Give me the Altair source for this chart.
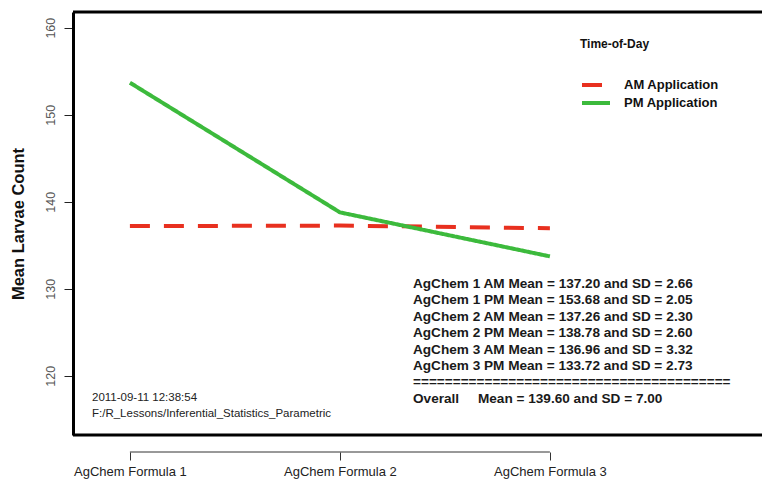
import altair as alt
import pandas as pd

# ---------------- data ----------------
formulas = ["AgChem Formula 1", "AgChem Formula 2", "AgChem Formula 3"]
positions = [1, 2, 3]
series_names = ["AM Application", "PM Application"]
am_means = [137.20, 137.26, 136.96]
pm_means = [153.68, 138.78, 133.72]
am_sds = [2.66, 2.30, 3.32]
pm_sds = [2.05, 2.60, 2.73]
overall_mean = 139.60
overall_sd = 7.00
y_ticks = [120, 130, 140, 150, 160]
stamp_lines = ["2011-09-11 12:38:54", "F:/R_Lessons/Inferential_Statistics_Parametric"]
line_colors = ["#e8301f", "#3cba3c"]

FONT = "Liberation Sans"
W, H = 689, 423

rows = []
for p, f, a, b in zip(positions, formulas, am_means, pm_means):
    rows.append({"pos": p, "formula": f, "series": series_names[0], "mean": a})
    rows.append({"pos": p, "formula": f, "series": series_names[1], "mean": b})
df = pd.DataFrame(rows)

stat_lines = []
for i in range(3):
    stat_lines.append(f"AgChem {i+1} AM Mean = {am_means[i]:.2f} and SD = {am_sds[i]:.2f}")
    stat_lines.append(f"AgChem {i+1} PM Mean = {pm_means[i]:.2f} and SD = {pm_sds[i]:.2f}")
stat_lines.append("=" * 40)
stat_lines.append("Overall" + "\u00a0" * 5 + f"Mean = {overall_mean:.2f} and SD = {overall_sd:.2f}")
stats_df = pd.DataFrame({"label": ["\n".join(stat_lines)]})
stamp_df = pd.DataFrame({"label": ["\n".join(stamp_lines)]})
one = pd.DataFrame({"a": [0]})

label_expr = "[" + ",".join(f"'{f}'" for f in formulas) + "][datum.value - 1]"

x_scale = alt.Scale(domain=[0.729, 4.01], nice=False, zero=False)
y_scale = alt.Scale(domain=[113.2, 161.8], nice=False, zero=False)

lines = alt.Chart(df).mark_line(strokeWidth=4, clip=True).encode(
    x=alt.X("pos:Q", scale=x_scale,
            axis=alt.Axis(values=positions, labelExpr=label_expr, title=None,
                          domain=False, grid=False, ticks=True, tickSize=8,
                          tickColor="#333", tickWidth=1, offset=17,
                          labelFont=FONT, labelFontSize=13, labelColor="#222",
                          labelPadding=5, labelFlush=False)),
    y=alt.Y("mean:Q", scale=y_scale,
            axis=alt.Axis(values=y_ticks, title="Mean Larvae Count", grid=False,
                          domain=True, domainColor="black", domainWidth=3,
                          tickSize=9, tickColor="#222", tickWidth=1,
                          labelAngle=270, labelAlign="center", labelBaseline="bottom",
                          labelPadding=7, labelFont=FONT, labelFontSize=12.5,
                          labelColor="#555",
                          titleFont=FONT, titleFontSize=16.5, titleFontWeight="bold",
                          titleColor="#111", titleAngle=270, titleX=-55,
                          titleY=H / 2, titleAlign="center", titleBaseline="middle")),
    color=alt.Color("series:N", scale=alt.Scale(domain=series_names, range=line_colors),
                    legend=alt.Legend(title="Time-of-Day", orient="none",
                                      legendX=507, legendY=27, padding=0,
                                      titleFont=FONT, titleFontSize=12,
                                      titleFontWeight="bold", titleColor="#111",
                                      titlePadding=25,
                                      labelFont=FONT, labelFontSize=13,
                                      labelFontWeight="bold", labelColor="#111",
                                      symbolType="M-1,0L3,0", symbolSize=196,
                                      symbolStrokeWidth=4, labelOffset=26,
                                      rowPadding=1)),
    strokeDash=alt.StrokeDash("series:N",
                              scale=alt.Scale(domain=series_names, range=[[20, 14], [1, 0]]),
                              legend=alt.Legend(title="Time-of-Day", orient="none",
                                                legendX=507, legendY=27)),
    order=alt.Order("pos:Q"),
)

top_rule = alt.Chart(one).mark_rule(color="black", strokeWidth=3).encode(
    x=alt.value(0), x2=alt.value(W), y=alt.value(0))
bottom_rule = alt.Chart(one).mark_rule(color="black", strokeWidth=3).encode(
    x=alt.value(0), x2=alt.value(W), y=alt.value(H))
xaxis_rule = alt.Chart(one).mark_rule(color="#333", strokeWidth=1).encode(
    x=alt.datum(min(positions)), x2=alt.datum(max(positions)), y=alt.value(H + 17))

stats_text = alt.Chart(stats_df).mark_text(
    align="left", baseline="alphabetic", lineBreak="\n", lineHeight=16.4,
    font=FONT, fontSize=13.6, fontWeight="bold", color="#1a1a1a"
).encode(x=alt.value(340), y=alt.value(276), text="label:N")

stamp_text = alt.Chart(stamp_df).mark_text(
    align="left", baseline="alphabetic", lineBreak="\n", lineHeight=16,
    font=FONT, fontSize=11.5, color="#222"
).encode(x=alt.value(19), y=alt.value(389), text="label:N")

chart = alt.layer(
    lines, top_rule, bottom_rule, xaxis_rule, stats_text, stamp_text
).properties(
    width=W, height=H,
    autosize=alt.AutoSizeParams(type="none"),
    padding={"left": 65, "top": 4, "right": 0, "bottom": 44},
).configure_view(stroke=None)

chart.save("out.html", embed_options={"renderer": "svg", "actions": False})
